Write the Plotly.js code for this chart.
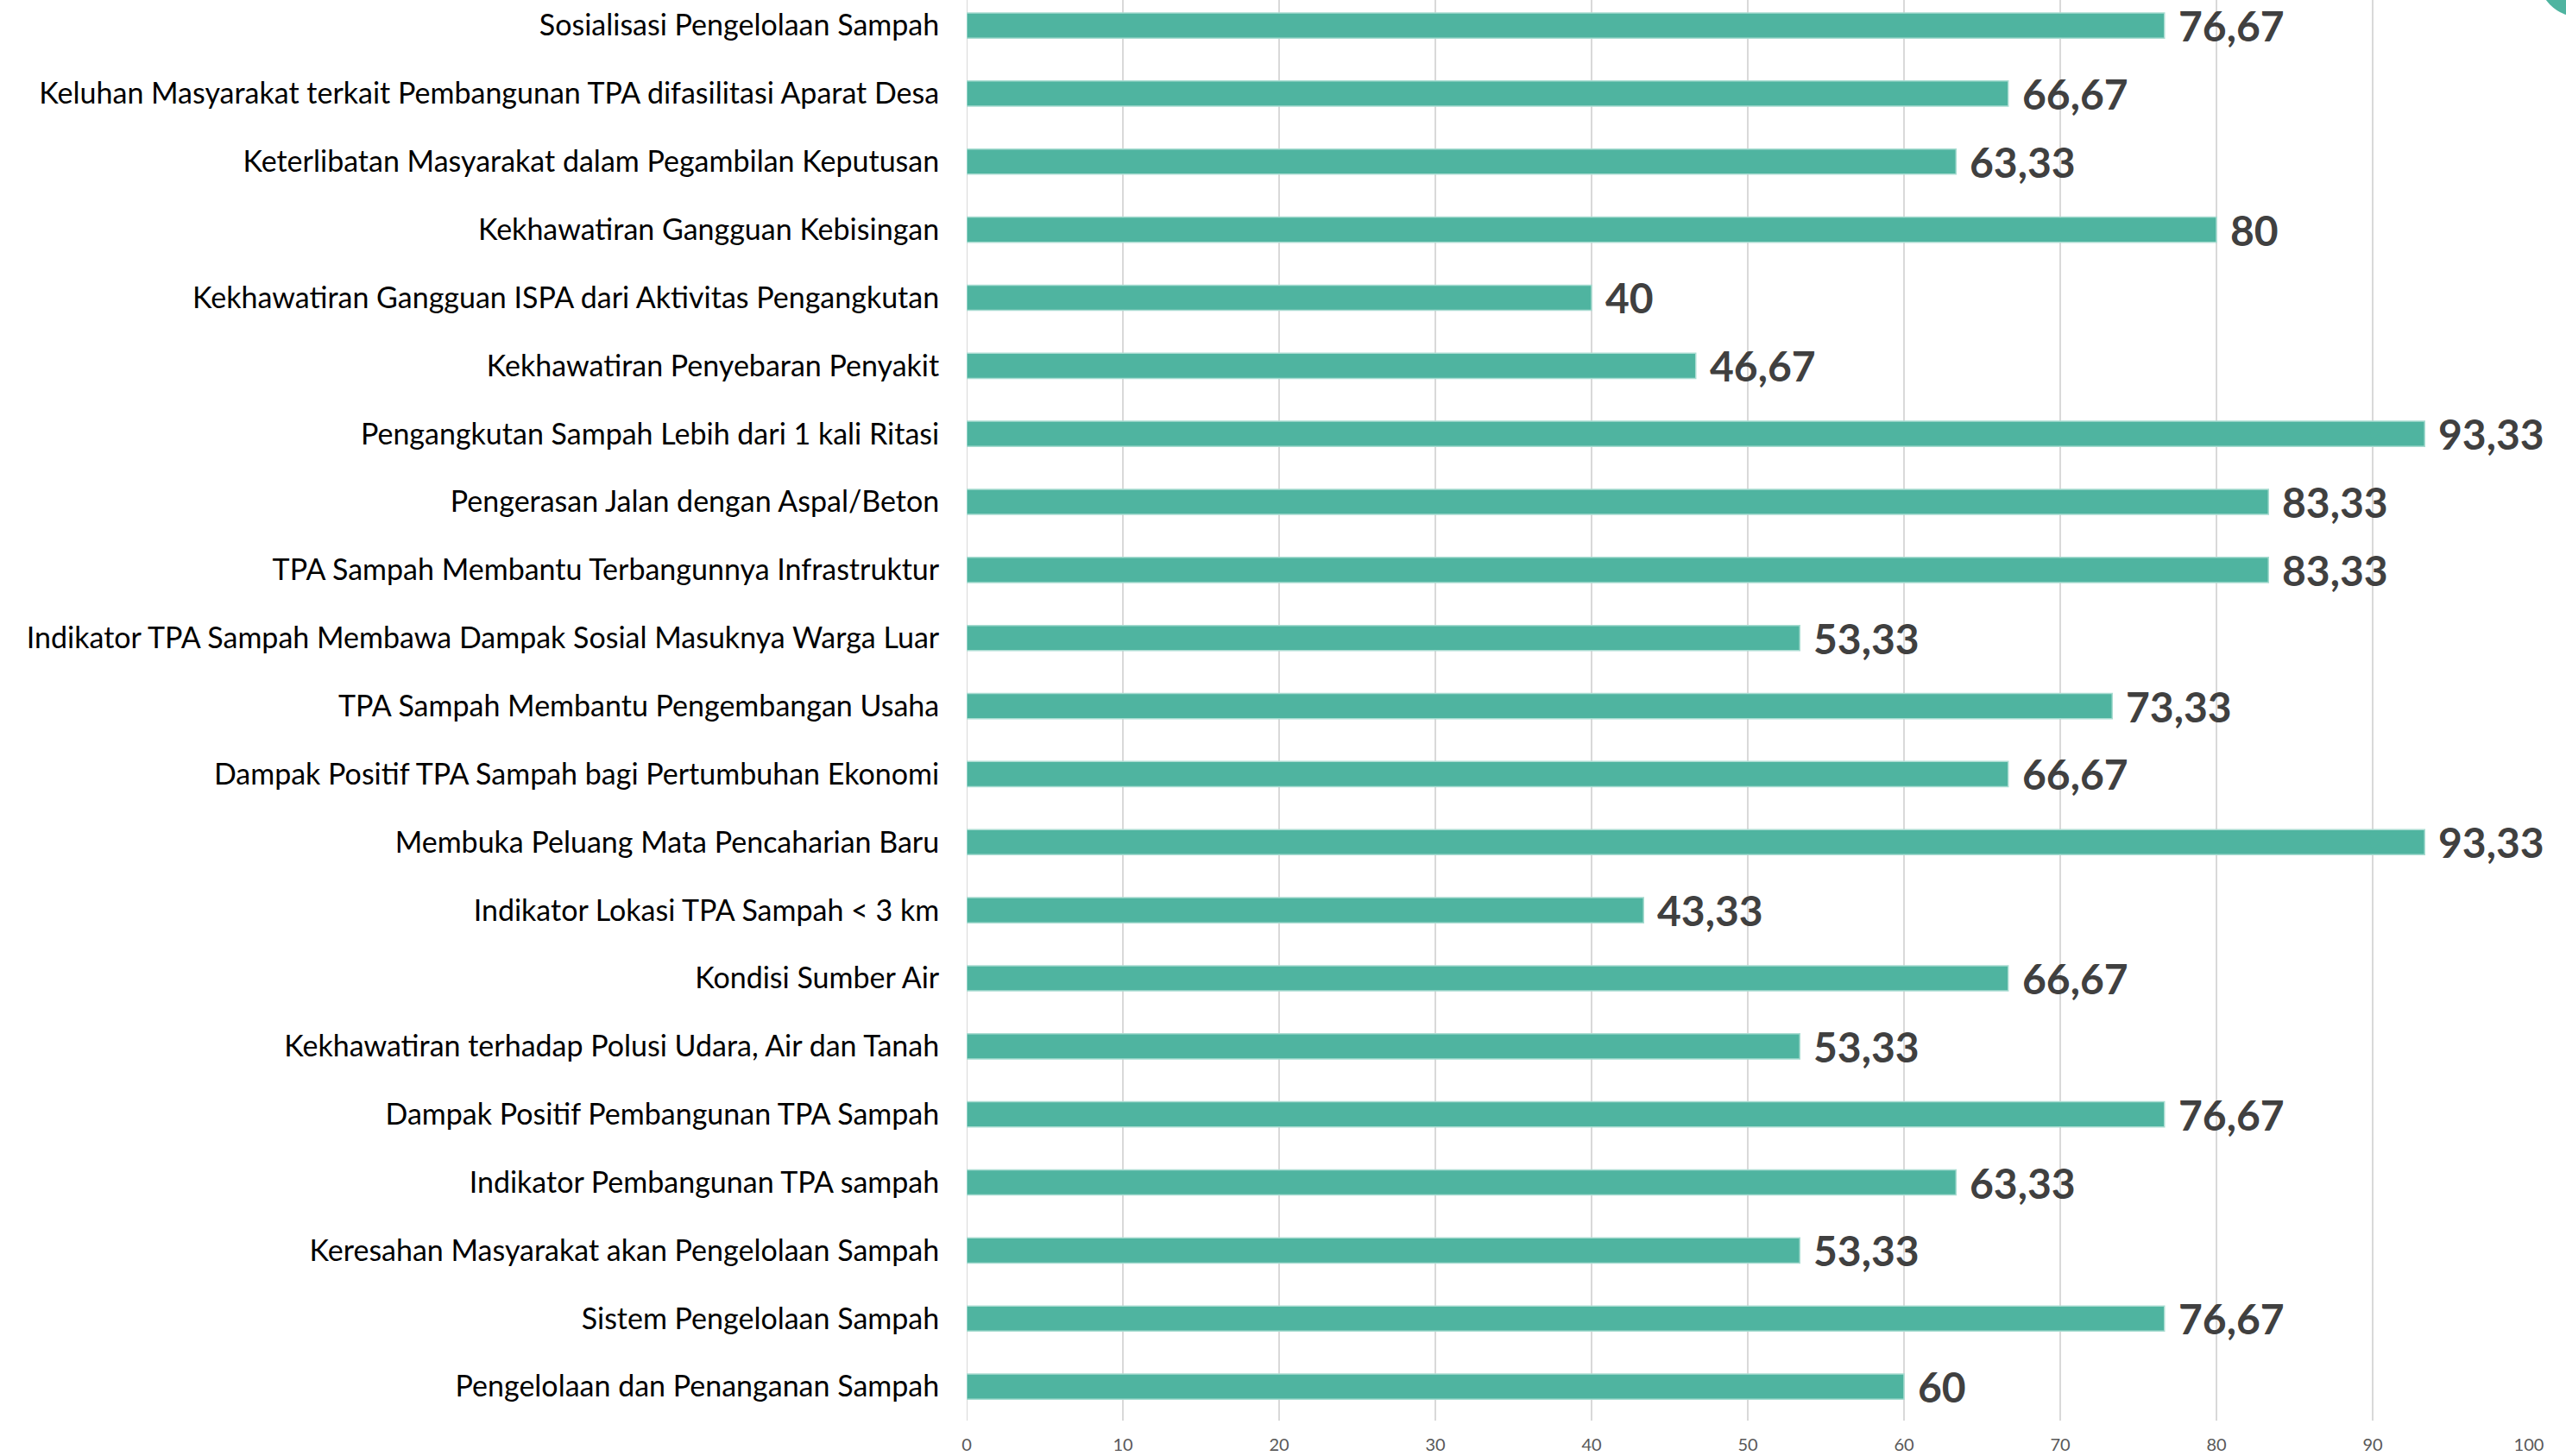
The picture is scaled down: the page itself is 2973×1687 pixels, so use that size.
<!DOCTYPE html>
<html>
<head>
<meta charset="utf-8">
<script src="https://cdn.plot.ly/plotly-3.0.1.min.js"></script>
<style>
html,body{margin:0;padding:0;background:#fff;}
#chart{width:2973px;height:1687px;}
</style>
</head>
<body>
<div id="chart"></div>
<script>
// Categories listed top to bottom as in the picture
const categories = [
  "Sosialisasi Pengelolaan Sampah",
  "Keluhan Masyarakat terkait Pembangunan TPA difasilitasi Aparat Desa",
  "Keterlibatan Masyarakat dalam Pegambilan Keputusan",
  "Kekhawatiran Gangguan Kebisingan",
  "Kekhawatiran Gangguan ISPA dari Aktivitas Pengangkutan",
  "Kekhawatiran Penyebaran Penyakit",
  "Pengangkutan Sampah Lebih dari 1 kali Ritasi",
  "Pengerasan Jalan dengan Aspal/Beton",
  "TPA Sampah Membantu Terbangunnya Infrastruktur",
  "Indikator TPA Sampah Membawa Dampak Sosial Masuknya Warga Luar",
  "TPA Sampah Membantu Pengembangan Usaha",
  "Dampak Positif TPA Sampah bagi Pertumbuhan Ekonomi",
  "Membuka Peluang Mata Pencaharian Baru",
  "Indikator Lokasi TPA Sampah < 3 km",
  "Kondisi Sumber Air",
  "Kekhawatiran terhadap Polusi Udara, Air dan Tanah",
  "Dampak Positif Pembangunan TPA Sampah",
  "Indikator Pembangunan TPA sampah",
  "Keresahan Masyarakat akan Pengelolaan Sampah",
  "Sistem Pengelolaan Sampah",
  "Pengelolaan dan Penanganan Sampah"
];
const values = [
  76.67, 66.67, 63.33, 80, 40, 46.67, 93.33, 83.33, 83.33, 53.33,
  73.33, 66.67, 93.33, 43.33, 66.67, 53.33, 76.67, 63.33, 53.33, 76.67, 60
];
const xTickValues = [0, 10, 20, 30, 40, 50, 60, 70, 80, 90, 100];

const valueLabels = values.map(v => String(v).replace('.', ','));

const barColor = '#4FB4A0';

const trace = {
  type: 'bar',
  orientation: 'h',
  x: values,
  y: categories,
  marker: {color: barColor, line: {color: '#A9DCD1', width: 1.5}},
  hoverinfo: 'x+y'
};

const annotations = values.map((v, i) => ({
  x: v, y: categories[i], xref: 'x', yref: 'y',
  text: valueLabels[i], showarrow: false,
  xanchor: 'left', yanchor: 'middle', xshift: 14, yshift: 0,
  font: {family: 'Lato', size: 48, color: '#404040', weight: 700}
}));

const layout = {
  width: 2973, height: 1687,
  margin: {l: 1120, r: 43, t: 0, b: 41, pad: 0},
  paper_bgcolor: '#ffffff', plot_bgcolor: '#ffffff',
  showlegend: false,
  bargap: 0.63,
  xaxis: {
    range: [0, 100],
    tickvals: xTickValues,
    ticktext: xTickValues.map(String),
    showgrid: true, gridcolor: '#D9D9D9', gridwidth: 2,
    zeroline: false, showline: false,
    ticks: 'outside', ticklen: 10, tickcolor: 'rgba(0,0,0,0)',
    tickfont: {family: 'Lato', size: 20, color: '#595959'},
    fixedrange: true
  },
  yaxis: {
    type: 'category',
    categoryorder: 'array', categoryarray: categories,
    range: [20.5, -0.375],
    showgrid: false, zeroline: false, showline: false,
    ticks: 'outside', ticklen: 24, tickcolor: 'rgba(0,0,0,0)',
    tickfont: {family: 'Lato', size: 34, color: '#000000'},
    automargin: false,
    fixedrange: true
  },
  shapes: [
    {type: 'line', xref: 'x', yref: 'paper', x0: 0, x1: 0, y0: 0, y1: 1,
     line: {color: '#D9D9D9', width: 2}, layer: 'below'},
    {type: 'circle', xref: 'paper', yref: 'paper',
     xsizemode: 'pixel', ysizemode: 'pixel',
     xanchor: 1.0331, yanchor: 1.0182,
     x0: -50, x1: 50, y0: -50, y1: 50,
     fillcolor: barColor, line: {width: 0}, layer: 'above'}
  ],
  annotations: annotations
};

Plotly.newPlot('chart', [trace], layout, {displayModeBar: false, staticPlot: true});
</script>
</body>
</html>
